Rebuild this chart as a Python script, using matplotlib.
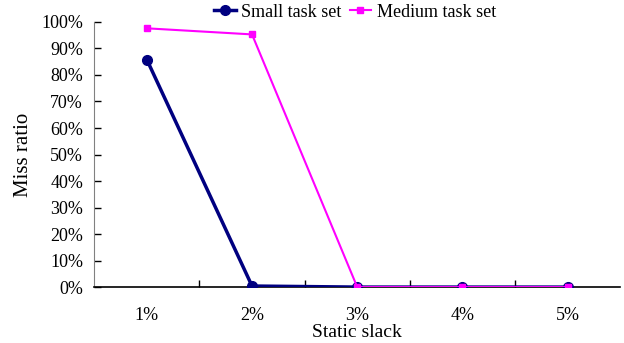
import numpy as np
import matplotlib
matplotlib.use("Agg")
import matplotlib.pyplot as plt
from matplotlib.ticker import PercentFormatter

plt.rcParams['font.family'] = ['Liberation Serif', 'DejaVu Serif']

slack = ['1%', '2%', '3%', '4%', '5%']
small = [85.8, 0.4, 0.0, 0.0, 0.0]
medium = [97.6, 95.3, 0.0, 0.0, 0.0]

fig = plt.figure(figsize=(6.24, 3.43), dpi=100)
ax = fig.add_axes([0.151, 0.163, 0.843, 0.773])

x = np.arange(len(slack))
ax.plot(x, small, color='#000080', lw=2.5, marker='o', ms=7, label='Small task set', zorder=3)
ax.plot(x, medium, color='#FF00FF', lw=1.5, marker='s', ms=4, label='Medium task set', zorder=4)

ax.set_xlim(-0.5, len(slack) - 0.5)
ax.set_ylim(0, 100)
ax.set_yticks(np.arange(0, 101, 10))
ax.yaxis.set_major_formatter(PercentFormatter(decimals=0))
ax.set_xticks(x)
ax.set_xticklabels(slack)
ax.set_xticks(np.arange(0.5, len(slack) - 0.5, 1), minor=True)
ax.tick_params(axis='x', which='major', length=0, pad=14, labelsize=13)
ax.tick_params(axis='x', which='minor', direction='in', length=5, width=1)
ax.tick_params(axis='y', direction='in', length=5, width=1, labelsize=13, pad=8)
for s in ['top', 'right']:
    ax.spines[s].set_visible(False)
ax.spines['left'].set_color('#808080')
ax.spines['bottom'].set_linewidth(1.2)

ax.set_xlabel('Static slack', fontsize=14, labelpad=0)
ax.set_ylabel('Miss ratio', fontsize=15, labelpad=6)

fig.legend(*ax.get_legend_handles_labels(), loc='center',
           bbox_to_anchor=(355 / 624, 0.965), bbox_transform=fig.transFigure,
           ncol=2, frameon=False, fontsize=13, handlelength=1.2, handletextpad=0.3,
           columnspacing=0.45, borderaxespad=0, borderpad=0)

fig.savefig('out.png', dpi=100)
